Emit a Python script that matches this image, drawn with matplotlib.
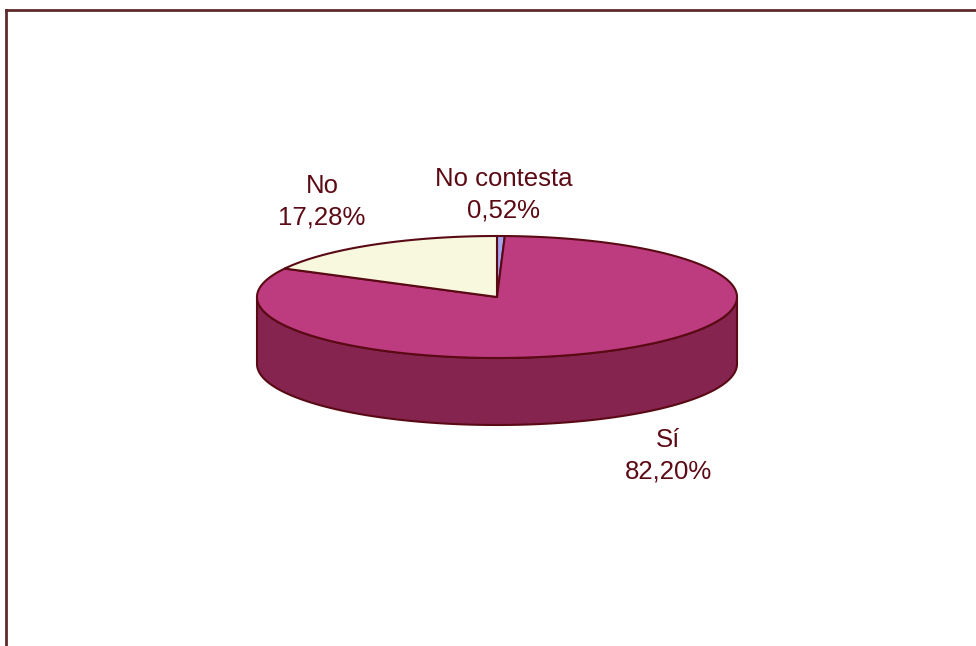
import numpy as np
import matplotlib
matplotlib.use("Agg")
import matplotlib.pyplot as plt
from matplotlib.patches import Polygon
from matplotlib.lines import Line2D

# Survey answers, in drawing order (clockwise from 12 o'clock)
categories = ["No contesta", "Sí", "No"]
values = [0.52, 82.20, 17.28]
labels = ["No contesta\n0,52%", "Sí\n82,20%", "No\n17,28%"]

top_colors = ["#A4A4F2", "#BD3C80", "#F8F8DE"]
side_colors = ["#6A6AB0", "#84244F", "#B8B89A"]
edge_color = "#5A0A14"
text_color = "#5C0A14"

W, H = 976, 646
fig = plt.figure(figsize=(W / 100, H / 100), dpi=100)
ax = fig.add_axes([0, 0, 1, 1])
ax.set_xlim(0, W)
ax.set_ylim(H, 0)
ax.axis("off")

# Ellipse geometry of the tilted pie (pixel units)
cx, cy = 497, 297
a, b = 240, 61
depth = 67


def ell(theta_deg, dy=0.0):
    t = np.radians(theta_deg)
    return cx + a * np.cos(t), cy - b * np.sin(t) + dy


total = float(sum(values))
fractions = np.array(values) / total
bounds = 90 - 360 * np.concatenate([[0], np.cumsum(fractions)])

# Side walls: visible only on the front half (180..360 degrees)
for i in range(len(values)):
    hi, lo = bounds[i], bounds[i + 1]
    for shift in (0, -360, 360):
        s_lo, s_hi = lo + shift, hi + shift
        v_lo, v_hi = max(s_lo, 180), min(s_hi, 360)
        if v_hi <= v_lo:
            continue
        th = np.linspace(v_lo, v_hi, 200)
        xt, yt = ell(th)
        xb, yb = ell(th[::-1], depth)
        pts = np.column_stack([np.concatenate([xt, xb]), np.concatenate([yt, yb])])
        ax.add_patch(Polygon(pts, closed=True, facecolor=side_colors[i],
                             edgecolor=edge_color, linewidth=1.5, joinstyle="round"))

# Top faces
for i in range(len(values)):
    th = np.linspace(bounds[i], bounds[i + 1], max(int(abs(bounds[i] - bounds[i + 1]) * 2), 4))
    xs, ys = ell(th)
    pts = np.column_stack([np.concatenate([[cx], xs]), np.concatenate([[cy], ys])])
    ax.add_patch(Polygon(pts, closed=True, facecolor=top_colors[i],
                         edgecolor=edge_color, linewidth=1.5, joinstyle="round"))

# Data labels
label_pos = [(504, 195), (668, 456), (322, 202)]
for lab, (lx, ly) in zip(labels, label_pos):
    ax.text(lx, ly, lab, ha="center", va="center", fontsize=18.5,
            family="Liberation Sans", color=text_color, linespacing=1.42)

# Chart-area border (top and left edges)
fig.add_artist(Line2D([6 / W, 1], [1 - 10 / H, 1 - 10 / H], transform=fig.transFigure,
                      color="#5E2A2E", linewidth=2.0))
fig.add_artist(Line2D([6 / W, 6 / W], [0, 1 - 10 / H], transform=fig.transFigure,
                      color="#5E2A2E", linewidth=2.0))

fig.savefig("out.png", dpi=100, facecolor="white")
